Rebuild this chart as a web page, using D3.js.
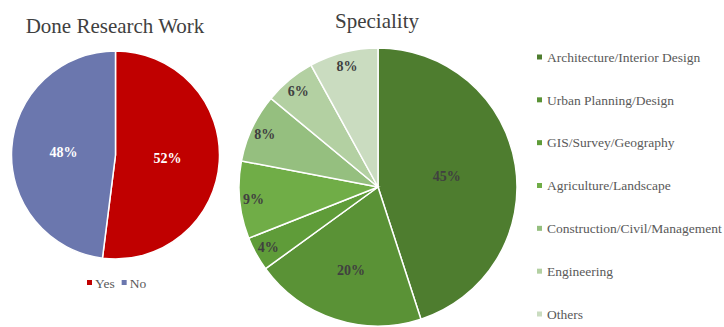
<!DOCTYPE html>
<html lang="en">
<head>
  <meta charset="UTF-8" />
  <title>Done Research Work / Speciality</title>
  <script src="https://d3js.org/d3.v7.min.js"></script>
  <style>
    body { margin: 0; background: #fff; }
    svg { display: block; }
    svg text { font-family: 'Liberation Serif', 'Times New Roman', serif; }
  </style>
</head>
<body>
  <svg width="724" height="327"></svg>

  <script>
    // research pie
    const researchLabels = ["Yes", "No"];
    const researchValues = [52, 48];
    const researchColors = ["#c00000", "#6b77ae"];

    // speciality pie
    const specLabels = [
      "Architecture/Interior Design",
      "Urban Planning/Design",
      "GIS/Survey/Geography",
      "Agriculture/Landscape",
      "Construction/Civil/Management",
      "Engineering",
      "Others"
    ];
    const specValues = [45, 20, 4, 9, 8, 6, 8];
    const specColors = ["#4e7d2f", "#5a9236", "#5f9c39", "#70ad47", "#95bf7f", "#b3d0a2", "#cadcc0"];

    const svg = d3.select("svg");
    const pie = d3.pie().sort(null).value(d => d.v);

    // Excel-like "best fit": big slices centred, small ones pushed out
    const labelRatio = f => f >= 0.4 ? 0.5 : f >= 0.15 ? 0.63 : 0.9;

    function drawPie(cx, cy, r, labels, values, colors, textColor) {
      const data = labels.map((l, i) => ({ l, v: values[i], c: colors[i] }));
      const total = d3.sum(values);
      const g = svg.append("g").attr("transform", `translate(${cx},${cy})`);
      const arc = d3.arc().innerRadius(0).outerRadius(r);
      const arcs = pie(data);

      g.selectAll("path").data(arcs).enter().append("path")
        .attr("d", arc)
        .attr("fill", d => d.data.c)
        .attr("stroke", "#fff")
        .attr("stroke-width", 1.5);

      g.selectAll("text").data(arcs).enter().append("text")
        .attr("transform", d => {
          const rr = r * labelRatio(d.data.v / total);
          const la = d3.arc().innerRadius(rr).outerRadius(rr);
          return `translate(${la.centroid(d)})`;
        })
        .attr("text-anchor", "middle")
        .attr("dy", "0.35em")
        .attr("fill", textColor)
        .attr("font-weight", "bold")
        .attr("font-size", 14)
        .text(d => d.data.v + "%");
    }

    // left chart
    svg.append("text").attr("x", 115).attr("y", 33)
      .attr("text-anchor", "middle").attr("font-size", 21).attr("fill", "#404040")
      .text("Done Research Work");
    drawPie(115.5, 155, 104, researchLabels, researchValues, researchColors, "#fff");

    const lg = svg.append("g").attr("transform", "translate(87,283)");
    let lx = 0;
    researchLabels.forEach((l, i) => {
      lg.append("rect").attr("x", lx).attr("y", -3).attr("width", 5).attr("height", 5)
        .attr("fill", researchColors[i]);
      const t = lg.append("text").attr("x", lx + 8).attr("y", 0).attr("dy", "0.35em")
        .attr("font-size", 13.5).attr("fill", "#595959").text(l);
      lx += t.node().getComputedTextLength() + 15;
    });

    // right chart
    svg.append("text").attr("x", 377).attr("y", 28)
      .attr("text-anchor", "middle").attr("font-size", 21).attr("fill", "#404040")
      .text("Speciality");
    drawPie(378, 187, 139, specLabels, specValues, specColors, "#404040");

    const y = d3.scalePoint().domain(specLabels).range([57, 314]);
    const sl = svg.append("g");
    specLabels.forEach((l, i) => {
      sl.append("rect").attr("x", 537).attr("y", y(l) - 2.5).attr("width", 5).attr("height", 5)
        .attr("fill", specColors[i]);
      sl.append("text").attr("x", 547).attr("y", y(l)).attr("dy", "0.35em")
        .attr("font-size", 13.5).attr("fill", "#595959").text(l);
    });
  </script>
</body>
</html>
